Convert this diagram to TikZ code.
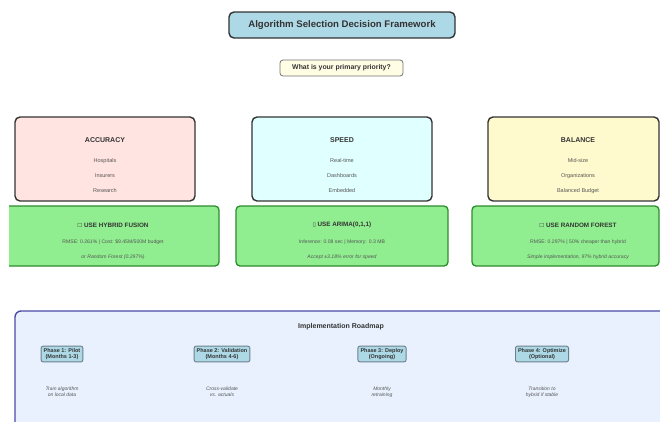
\documentclass[tikz,border=0pt]{standalone}
\usepackage{fontspec}
\setmainfont{Liberation Sans}
\newfontfamily\symfont{DejaVu Sans}
\definecolor{titlefill}{HTML}{ADD8E6}
\definecolor{qfill}{HTML}{FFFDE4}
\definecolor{accfill}{HTML}{FFE4E1}
\definecolor{spdfill}{HTML}{E0FFFF}
\definecolor{balfill}{HTML}{FFFACD}
\definecolor{grnfill}{HTML}{90EE90}
\definecolor{grnline}{HTML}{2E8B2E}
\definecolor{roadfill}{HTML}{E8F1FD}
\definecolor{roadline}{HTML}{4B4BA8}
\definecolor{darkline}{HTML}{333333}
\definecolor{phaseline}{HTML}{6F7F8C}
\definecolor{txtgray}{HTML}{555555}
\tikzset{
  titlebox/.style={draw=darkline, line width=1.4pt, fill=titlefill, rounded corners=5pt, minimum width=226pt, minimum height=26pt, inner sep=0pt, font=\fontsize{9.6}{11}\selectfont\bfseries, text=darkline},
  qbox/.style={draw=black!55, line width=0.8pt, fill=qfill, rounded corners=3pt, minimum width=123pt, minimum height=16pt, inner sep=0pt, font=\fontsize{6.9}{8}\selectfont\bfseries, text=darkline},
  catbox/.style={draw=darkline, line width=1.4pt, rounded corners=5pt, minimum height=84pt, inner sep=0pt},
  grnbox/.style={draw=grnline, line width=1.3pt, fill=grnfill, rounded corners=4pt, minimum height=60pt, inner sep=0pt},
  roadbox/.style={draw=roadline, line width=1.4pt, fill=roadfill, rounded corners=6pt, minimum width=655pt, minimum height=119pt, inner sep=0pt},
  phasebox/.style={draw=phaseline, line width=0.9pt, fill=titlefill, rounded corners=2pt, inner xsep=2.6pt, inner ysep=2.2pt, align=center, font=\fontsize{5.5}{6.2}\selectfont\bfseries, text=darkline},
  cathead/.style={font=\fontsize{7}{8}\selectfont\bfseries, text=darkline},
  catitem/.style={font=\fontsize{5.5}{6}\selectfont, text=txtgray},
  usehead/.style={font=\fontsize{6.3}{7}\selectfont\bfseries, text=darkline},
  usedet/.style={font=\fontsize{5.1}{6}\selectfont, text=txtgray},
  usenote/.style={font=\fontsize{5.1}{6}\selectfont\itshape, text=txtgray},
  roadhead/.style={font=\fontsize{7}{8}\selectfont\bfseries, text=darkline},
  phasedesc/.style={align=center, font=\fontsize{5}{5.8}\selectfont\itshape, text=txtgray},
}
\begin{document}
\begin{tikzpicture}[x=1pt, y=-1pt]
\useasboundingbox (0,0) rectangle (660,421);
\clip (9,0) rectangle (660,421);
% title and question
\node[titlebox] (title) at (342,25) {Algorithm Selection Decision Framework};
\node[qbox] (question) at (341.5,68) {What is your primary priority?};
% category boxes
\node[catbox, fill=accfill, minimum width=180pt] (acc) at (105,159) {};
\node[catbox, fill=spdfill, minimum width=180pt] (spd) at (342,159) {};
\node[catbox, fill=balfill, minimum width=171pt] (bal) at (573.5,159) {};
\node[cathead] (acch) at (105,140) {ACCURACY};
\node[catitem] (acc1) at (105,161) {Hospitals};
\node[catitem] (acc2) at (105,176) {Insurers};
\node[catitem] (acc3) at (105,191) {Research};
\node[cathead] (spdh) at (342,140) {SPEED};
\node[catitem] (spd1) at (342,161) {Real-time};
\node[catitem] (spd2) at (342,176) {Dashboards};
\node[catitem] (spd3) at (342,191) {Embedded};
\node[cathead] (balh) at (578,140) {BALANCE};
\node[catitem] (bal1) at (578,161) {Mid-size};
\node[catitem] (bal2) at (578,176) {Organizations};
\node[catitem] (bal3) at (578,191) {Balanced Budget};
% recommendation boxes
\node[grnbox, minimum width=217pt] (gacc) at (110.5,236) {};
\node[grnbox, minimum width=212pt] (gspd) at (342,236) {};
\node[grnbox, minimum width=187pt] (gbal) at (565.5,236) {};
\node[usehead] (gacch) at (113,225) {{\symfont\fontsize{5.5}{6}\selectfont ☐}\ USE HYBRID FUSION};
\node[usedet] (gacc1) at (113,242) {RMSE: 0.261\% | Cost: \$9.45M/500M budget};
\node[usenote] (gacc2) at (113,257) {or Random Forest (0.297\%)};
\node[usehead] (gspdh) at (342,225) {{\symfont\fontsize{5.5}{6}\selectfont ▯}\ USE ARIMA(0,1,1)};
\node[usedet] (gspd1) at (342,242) {Inference: 0.08 sec | Memory: 0.3 MB};
\node[usenote] (gspd2) at (342,257) {Accept ±3.18\% error for speed};
\node[usehead] (gbalh) at (578,225) {{\symfont\fontsize{5.5}{6}\selectfont ☐}\ USE RANDOM FOREST};
\node[usedet] (gbal1) at (578,242) {RMSE: 0.297\% | 50\% cheaper than hybrid};
\node[usenote] (gbal2) at (578,257) {Simple implementation, 97\% hybrid accuracy};
% roadmap
\node[roadbox] (road) at (342.5,370.5) {};
\node[roadhead] (roadh) at (341,327) {Implementation Roadmap};
\node[phasebox] (p1) at (62,354) {Phase 1: Pilot\\(Months 1-3)};
\node[phasebox] (p2) at (222,354) {Phase 2: Validation\\(Months 4-6)};
\node[phasebox] (p3) at (382,354) {Phase 3: Deploy\\(Ongoing)};
\node[phasebox] (p4) at (542,354) {Phase 4: Optimize\\(Optional)};
\node[phasedesc] (d1) at (62,392) {Train algorithm\\on local data};
\node[phasedesc] (d2) at (222,392) {Cross-validate\\vs. actuals};
\node[phasedesc] (d3) at (382,392) {Monthly\\retraining};
\node[phasedesc] (d4) at (542,392) {Transition to\\hybrid if stable};
\end{tikzpicture}
\end{document}
